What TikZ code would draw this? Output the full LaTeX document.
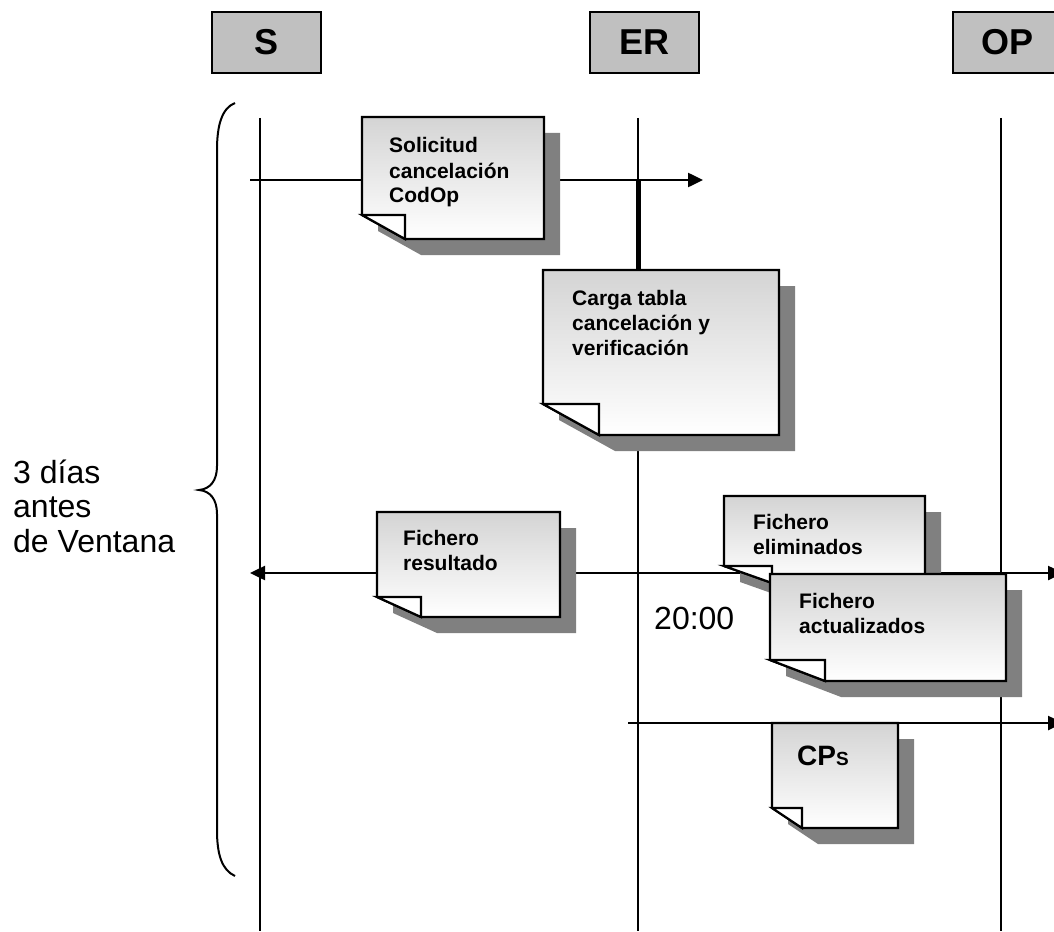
\documentclass[tikz,border=0pt]{standalone}
\usepackage{fontspec}
\setmainfont{Liberation Sans}
\usetikzlibrary{arrows.meta}
\definecolor{hdrgray}{HTML}{C0C0C0}
\definecolor{shadowgray}{HTML}{808080}
\definecolor{notetop}{HTML}{D4D4D4}
\tikzset{
  lifeline/.style={line width=2pt},
  msg/.style={line width=2.5pt,-{Triangle[length=15pt,width=14pt]}},
  header/.style={draw=black,line width=2pt,fill=hdrgray,minimum width=109pt,minimum height=61pt,inner sep=0pt,font=\fontsize{36}{36}\selectfont\bfseries},
  notetext/.style={anchor=base west,inner sep=0pt,font=\fontsize{21}{25}\selectfont\bfseries},
  plaintext/.style={anchor=base west,inner sep=0pt,font=\fontsize{32}{34.5}\selectfont},
  notebody/.style={line width=2.2pt,line join=miter,top color=notetop,bottom color=white},
  notefold/.style={fill=white,line width=2.2pt,line join=miter},
  brace/.style={line width=2pt}
}
% name, x1, y1, x2, y2, fold width, fold height
\newcommand\docnote[7]{%
  \fill[shadowgray] (#2+16,#3+16) -- (#4+16,#3+16) -- (#4+16,#5+16) -- (#2+#6+16,#5+16) -- (#2+16,#5-#7+16) -- cycle;
  \shadedraw[notebody] (#2,#3) -- (#4,#3) -- (#4,#5) -- (#2+#6,#5) -- (#2,#5-#7) -- cycle;
  \filldraw[notefold] (#2,#5-#7) -- (#2+#6,#5-#7) -- (#2+#6,#5) -- cycle;
  \node[inner sep=0pt,minimum width={(#4-#2)*1pt},minimum height={(#5-#3)*1pt}] (#1) at ({(#2+#4)/2},{(#3+#5)/2}) {};
}
\begin{document}
\begin{tikzpicture}[x=1pt,y=-1pt]
\useasboundingbox (0,0) rectangle (1054,931);
\clip (0,0) rectangle (1054,931);

% headers
\node[header] (S) at (266.5,42.5) {S};
\node[header] (ER) at (644.5,42.5) {ER};
\node[header] (OP) at (1007.5,42.5) {OP};

% lifelines
\coordinate (Stop) at (260,118);  \coordinate (Sbot) at (260,931);
\coordinate (ERtop) at (637.5,118); \coordinate (ERbot) at (637.5,931);
\coordinate (OPtop) at (1001,118); \coordinate (OPbot) at (1001,931);
\draw[lifeline] (Stop) -- (Sbot);
\draw[lifeline] (ERtop) -- (ERbot);
\draw[lifeline] (OPtop) -- (OPbot);

% brace
\draw[brace] (235,103) .. controls (222,108) and (217,125) .. (217,150) -- (217,466)
  .. controls (217,481) and (210,489) .. (199,490)
  .. controls (210,491) and (217,499) .. (217,514) -- (217,830)
  .. controls (217,855) and (222,870) .. (235,876);
\node[plaintext] (days) at (13,483) {\begin{tabular}[t]{@{}l@{}}3 días\\antes\\de Ventana\end{tabular}};

% messages
\coordinate (m1s) at (250,180); \coordinate (m1e) at (703,180);
\draw[msg] (m1s) -- (m1e);
\coordinate (m2o) at (628,573); \coordinate (m2l) at (250,573); \coordinate (m2r) at (1063,573);
\draw[msg] (m2o) -- (m2l);
\draw[msg] (m2o) -- (m2r);
\coordinate (m3o) at (628,723); \coordinate (m3r) at (1063,723);
\draw[msg] (m3o) -- (m3r);

% notes
\docnote{n1}{362}{117}{544}{239}{43}{24}
\node[notetext] (t1) at (389,153) {\begin{tabular}[t]{@{}l@{}}Solicitud\\cancelación\\CodOp\end{tabular}};

\coordinate (bar) at (638,180);
\docnote{n2}{543}{270}{779}{435}{56}{31}
\draw[line width=5pt] (bar) -- (n2.north -| bar);
\node[notetext] (t2) at (572,305) {\begin{tabular}[t]{@{}l@{}}Carga tabla\\cancelación y\\verificación\end{tabular}};

\docnote{n3}{377}{512}{560}{617}{44}{20}
\node[notetext] (t3) at (403,545) {\begin{tabular}[t]{@{}l@{}}Fichero\\resultado\end{tabular}};

\docnote{n4}{724}{496}{925}{583}{48}{17}
\node[notetext] (t4) at (753,529) {\begin{tabular}[t]{@{}l@{}}Fichero\\eliminados\end{tabular}};

\docnote{n5}{770}{574}{1006}{681}{55}{21}
\node[notetext] (t5) at (799,608) {\begin{tabular}[t]{@{}l@{}}Fichero\\actualizados\end{tabular}};

\node[plaintext] (time) at (654,629) {20:00};

\docnote{n6}{772}{723}{898}{828}{30}{20}
\node[anchor=base west,inner sep=0pt,font=\fontsize{28}{28}\selectfont\bfseries] (t6) at (797,765) {CP{\fontsize{19}{19}\selectfont S}};
\end{tikzpicture}
\end{document}
